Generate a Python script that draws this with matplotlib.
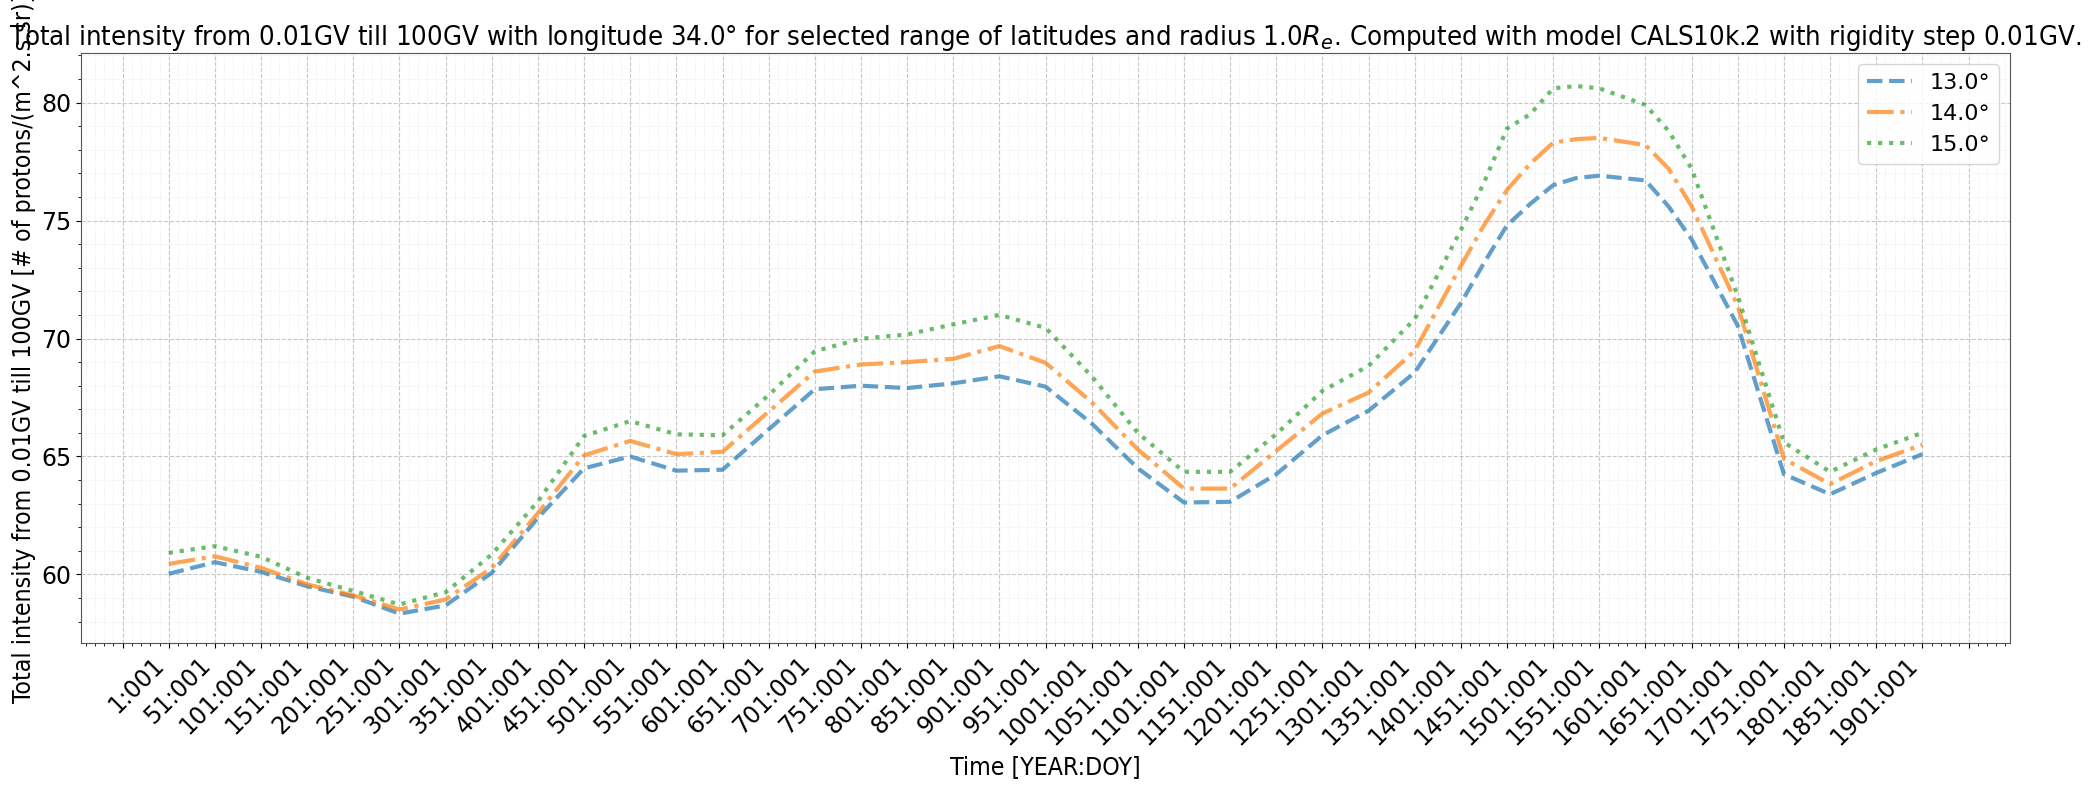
import numpy as np
import matplotlib
matplotlib.use("Agg")
import matplotlib.pyplot as plt
from matplotlib import font_manager
from matplotlib.ticker import AutoMinorLocator


# values (years, intensity)
years = [1, 51, 101, 151, 201, 251, 301, 351, 401, 451, 501, 551, 601, 651,
         701, 751, 801, 851, 901, 951, 1001, 1051, 1101, 1151, 1201, 1251,
         1301, 1351, 1401, 1426, 1451, 1476, 1501, 1526, 1551, 1601, 1626,
         1651, 1701, 1751, 1801, 1851, 1901]

lat_13 = [60.03, 60.52, 60.11, 59.5, 59.06, 58.34, 58.69, 60.07, 62.4, 64.5,
          65.0, 64.4, 64.44, 66.15, 67.85, 68.0, 67.9, 68.1, 68.4, 67.96,
          66.4, 64.5, 63.05, 63.08, 64.25, 65.9, 66.94, 68.56, 71.5, 73.2,
          74.8, 75.7, 76.5, 76.8, 76.9, 76.7, 75.6, 74.2, 70.54, 64.25,
          63.4, 64.3, 65.1]

lat_14 = [60.45, 60.77, 60.28, 59.58, 59.11, 58.52, 58.94, 60.28, 62.6, 65.05,
          65.66, 65.1, 65.2, 66.9, 68.6, 68.9, 69.0, 69.14, 69.68, 68.97,
          67.3, 65.3, 63.64, 63.64, 65.24, 66.82, 67.71, 69.48, 73.08, 74.8,
          76.3, 77.4, 78.3, 78.45, 78.5, 78.2, 77.2, 75.6, 71.38, 64.9,
          63.83, 64.8, 65.5]

lat_15 = [60.92, 61.2, 60.75, 59.86, 59.3, 58.73, 59.25, 60.85, 63.1, 65.87,
          66.5, 65.94, 65.9, 67.6, 69.46, 69.99, 70.17, 70.6, 71.0, 70.45,
          68.4, 66.0, 64.35, 64.35, 65.95, 67.78, 68.84, 70.82, 74.6, 76.6,
          78.9, 79.5, 80.6, 80.7, 80.6, 79.9, 78.8, 77.2, 71.8, 65.6,
          64.35, 65.3, 66.0]

series_labels = ["13.0°", "14.0°", "15.0°"]

tick_years = list(range(-49, 2000, 50))
tick_labels = ["" if (y < 1 or y > 1901) else "%d:001" % y for y in tick_years]


def narrow_font():
    # title and axis labels of the original are set in a condensed face;
    # look for one by file name, else fall back to plain DejaVu Sans
    for f in font_manager.fontManager.ttflist:
        fn = f.fname.replace("-", "").replace("_", "")
        if "DejaVuSansCondensed.ttf" in fn or "LiberationSansNarrowRegular" in fn:
            return font_manager.FontProperties(fname=f.fname), True
    return font_manager.FontProperties(family="DejaVu Sans"), False


def main():
    fig = plt.figure(figsize=(20.89, 7.85), dpi=100)
    ax = fig.add_axes([0.0388, 0.181, 0.9234, 0.7515])

    ax.plot(years, lat_13, linestyle="--", linewidth=3, alpha=0.7,
            color="#1f77b4", label=series_labels[0])
    ax.plot(years, lat_14, linestyle="-.", linewidth=3, alpha=0.7,
            color="#ff7f0e", label=series_labels[1])
    ax.plot(years, lat_15, linestyle=":", linewidth=3, alpha=0.7,
            color="#2ca02c", label=series_labels[2])

    ax.set_ylim(57.1, 82.1)
    ax.set_xticks(tick_years, tick_labels, rotation=45, ha="right", fontsize=17)
    ax.tick_params(axis="y", labelsize=17)
    ax.xaxis.set_minor_locator(AutoMinorLocator())
    ax.yaxis.set_minor_locator(AutoMinorLocator())
    ax.grid(which="major", linestyle="--", color="#b0b0b0", linewidth=0.8, alpha=0.7)
    ax.grid(which="minor", linestyle=":", color="#cccccc", linewidth=0.6, alpha=0.5)
    for s in ax.spines.values():
        s.set_color("#555555")

    fp, narrow = narrow_font()
    title_fp = fp.copy()
    label_fp = fp.copy()
    title_fp.set_size(19.7 if narrow else 19.0)
    label_fp.set_size(17.8 if narrow else 18)

    ax.set_title("Total intensity from 0.01GV till 100GV with longitude 34.0° for selected "
                 "range of latitudes and radius 1.0$R_e$. Computed with model CALS10k.2 "
                 "with rigidity step 0.01GV.", fontproperties=title_fp)
    ax.set_xlabel("Time [YEAR:DOY]", fontproperties=label_fp)
    ax.set_ylabel("Total intensity from 0.01GV till 100GV [# of protons/(m^2.s.sr)]",
                  fontproperties=label_fp)
    ax.legend(loc="upper right", fontsize=16)

    fig.savefig("out.png", dpi=100)


if __name__ == "__main__":
    main()
